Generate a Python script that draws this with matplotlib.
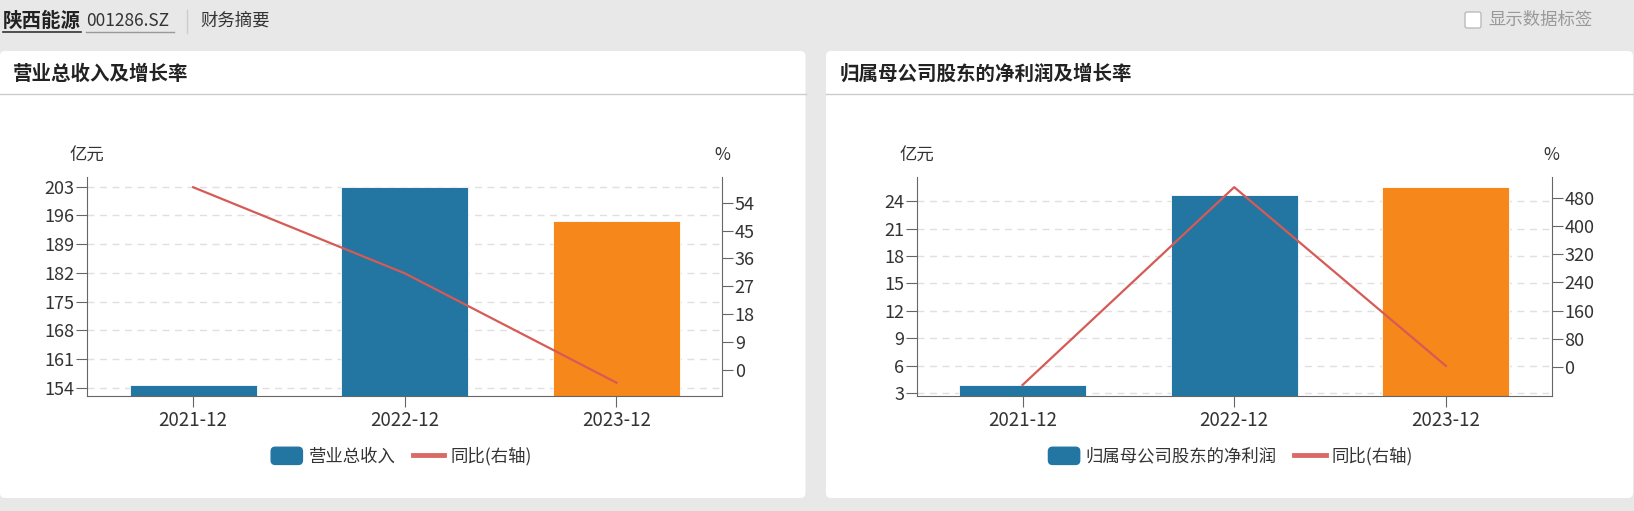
import matplotlib
matplotlib.use('Agg')
import matplotlib.pyplot as plt
import numpy as np
from matplotlib.patches import FancyBboxPatch, Patch
from matplotlib.lines import Line2D
from matplotlib.legend_handler import HandlerPatch

plt.rcParams['font.family'] = ['Noto Sans CJK SC', 'DejaVu Sans']

### data ###
cats = ['2021-12', '2022-12', '2023-12']
revenue = [154.7, 202.9, 194.6]          # 亿元
revenue_yoy = [59.0, 31.2, -4.1]         # %
profit = [3.9, 24.7, 25.5]               # 亿元
profit_yoy = [-51.0, 510.0, 3.2]         # %

rev_ticks = [154, 161, 168, 175, 182, 189, 196, 203]
rev_yoy_ticks = [0, 9, 18, 27, 36, 45, 54]
pro_ticks = [3, 6, 9, 12, 15, 18, 21, 24]
pro_yoy_ticks = [0, 80, 160, 240, 320, 400, 480]

BLUE = '#2276a1'
ORANGE = '#f5871b'
RED = '#d65a55'
AXC = '#666666'
TXT = '#333333'
bar_colors = [BLUE, BLUE, ORANGE]

W, H = 1634, 511
fig = plt.figure(figsize=(W / 100, H / 100), dpi=100, facecolor='#e8e8e8')

def px(x, y):
    # pixel (top-left origin) -> inches for dpi_scale_trans
    return x / 100, (H - y) / 100

# cards
for x0, x1 in [(0, 805.5), (826, 1633)]:
    bx, by = px(x0, 498)
    card = FancyBboxPatch((bx, by), (x1 - x0) / 100, 4.47,
                          boxstyle='round,pad=0,rounding_size=0.05',
                          transform=fig.dpi_scale_trans, facecolor='white',
                          edgecolor='none', zorder=0)
    fig.add_artist(card)
    fig.add_artist(Line2D([x0 / W, x1 / W], [1 - 94 / H, 1 - 94 / H],
                          color='#cccccc', lw=1, transform=fig.transFigure))

# header
fig.text(3 / W, 1 - 21 / H, '陕西能源', fontsize=14, fontweight='bold',
         color='#222222', va='center')
fig.add_artist(Line2D([3 / W, 81 / W], [1 - 32 / H] * 2, color='#333333', lw=1.2))
fig.text(86 / W, 1 - 21 / H, '001286.SZ', fontsize=12.5, color=TXT, va='center')
fig.add_artist(Line2D([86 / W, 174 / W], [1 - 32 / H] * 2, color='#999999', lw=1))
fig.add_artist(Line2D([186.5 / W] * 2, [1 - 10 / H, 1 - 33 / H], color='#cccccc', lw=1))
fig.text(200 / W, 1 - 21 / H, '财务摘要', fontsize=12.5, color=TXT, va='center')

cbx, cby = px(1465, 28)
fig.add_artist(FancyBboxPatch((cbx, cby), 0.16, 0.16,
                              boxstyle='round,pad=0,rounding_size=0.02',
                              transform=fig.dpi_scale_trans, facecolor='white',
                              edgecolor='#bbbbbb', lw=1))
fig.text(1488 / W, 1 - 19.5 / H, '显示数据标签', fontsize=12.5, color='#999999', va='center')

def round_patch(legend, orig_handle, xdescent, ydescent, width, height, fontsize):
    return FancyBboxPatch((-xdescent, -ydescent - 1), width, height + 2,
                          boxstyle='round,pad=0,rounding_size=3')

def draw_panel(left_px, title, title_x, bars, yoy, bticks, yticks, ylim, ylim2, name):
    ax = fig.add_axes([left_px / W, 1 - 395.7 / H, 635 / W, 218.4 / H])
    x = np.arange(len(cats))
    ax.bar(x, bars, width=0.6, color=bar_colors, edgecolor='#ffffff', linewidth=0.6, zorder=2)
    ax.set_xlim(-0.5, 2.5)
    ax.set_ylim(*ylim)
    ax.set_xticks(x)
    ax.set_xticklabels(cats)
    ax.set_yticks(bticks)
    ax.set_axisbelow(True)
    ax.yaxis.grid(True, linestyle=(0, (5, 4)), color='#e0e0e0', linewidth=1)
    for s in ['top', 'right']:
        ax.spines[s].set_visible(False)
    for s in ['left', 'bottom']:
        ax.spines[s].set_color(AXC)
    ax.tick_params(axis='y', length=8, pad=1, colors=AXC, labelcolor=TXT, labelsize=13)
    ax.tick_params(axis='x', length=8, pad=2, colors=AXC, labelcolor=TXT, labelsize=13.5)

    ax2 = ax.twinx()
    ax2.plot(x, yoy, color=RED, lw=1.6, zorder=3)
    ax2.set_ylim(*ylim2)
    ax2.set_yticks(yticks)
    for s in ['top', 'left', 'bottom']:
        ax2.spines[s].set_visible(False)
    ax2.spines['right'].set_color(AXC)
    ax2.tick_params(axis='y', length=8, pad=1, colors=AXC, labelcolor=TXT, labelsize=13)

    ax.text(0, 1.1, '亿元', transform=ax.transAxes, ha='center', va='center',
            fontsize=12.5, color=TXT)
    ax.text(1, 1.1, '%', transform=ax.transAxes, ha='center', va='center',
            fontsize=12.5, color=TXT)

    fig.text(title_x / W, 1 - 74 / H, title, fontsize=14, fontweight='bold',
             color='#222222', va='center')

    handles = [Patch(color=BLUE), Line2D([0], [0], color=RED, lw=3.5, alpha=0.9)]
    ax2.legend(handles, [name, '同比(右轴)'], loc='center', ncol=2,
               bbox_to_anchor=((left_px + 314) / W, 1 - 456.5 / H),
               bbox_transform=fig.transFigure, frameon=False, fontsize=12.5,
               handlelength=1.8, handleheight=0.9, handletextpad=0.35,
               columnspacing=1.0, labelcolor=TXT,
               handler_map={Patch: HandlerPatch(patch_func=round_patch)})

draw_panel(87.3, '营业总收入及增长率', 12.5, revenue, revenue_yoy,
           rev_ticks, rev_yoy_ticks, (152.05, 205.3), (-8.3, 62.2), '营业总收入')
draw_panel(916.7, '归属母公司股东的净利润及增长率', 840, profit, profit_yoy,
           pro_ticks, pro_yoy_ticks, (2.74, 26.6), (-81.4, 538), '归属母公司股东的净利润')

fig.savefig('out.png', dpi=100, facecolor=fig.get_facecolor())
